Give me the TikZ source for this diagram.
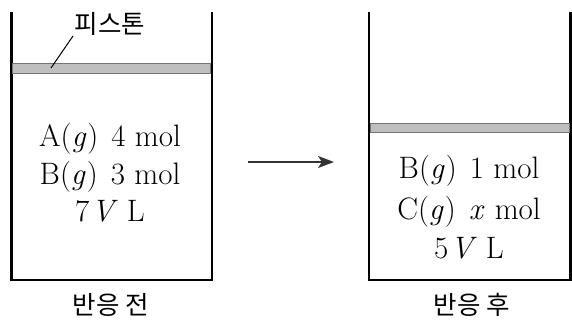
\documentclass[tikz,border=0pt]{standalone}
\usepackage{fontspec}
\newfontfamily\kr{Noto Sans CJK KR}
\usetikzlibrary{arrows.meta}
\newcommand{\itl}[1]{\textit{#1}\kern1pt\relax}
\begin{document}
\begin{tikzpicture}[x=1pt,y=-1pt,
  wall/.style={line width=2.6pt, line join=miter},
  piston/.style={fill=black!25, draw=black!55, line width=0.9pt},
  leader/.style={line width=1pt},
  chem/.style={font=\fontsize{31}{34}\selectfont, anchor=base, inner sep=0pt},
  krlabel/.style={font=\kr\fontsize{25.5}{28}\selectfont, inner sep=0pt},
  flow/.style={line width=1.6pt, draw=black!80, -{Stealth[length=16pt,width=12pt,inset=4pt]}}
]
\useasboundingbox (0,0) rectangle (572,322);
% left cylinder
\draw[wall] (11.5,12) -- (11.5,280) -- (212,280) -- (212,12);
\draw[piston] (12.8,63.5) rectangle (210.7,73.8);
\coordinate (lp) at (51,68);
\coordinate (lt) at (73,36);
\draw[leader] (lp) -- (lt);
\node[krlabel] (pst) at (110,24) {피스톤};
\node[chem] (a1) at (110,146.5) {A(\itl{g})\hspace{13pt}4 mol};
\node[chem] (b1) at (110,184.5) {B(\itl{g})\hspace{13pt}3 mol};
\node[chem] (v1) at (110,221.5) {7\kern2pt\relax\itl{V}\hspace{8pt}L};
\node[krlabel] (before) at (111,305) {반응 전};
% arrow
\coordinate (as) at (248,162);
\coordinate (ae) at (334,162);
\draw[flow] (as) -- (ae);
% right cylinder
\draw[wall] (369,12) -- (369,280) -- (570.7,280) -- (570.7,12);
\draw[piston] (370.3,123.5) rectangle (569.4,132.5);
\node[chem] (b2) at (469,178) {B(\itl{g})\hspace{13pt}1 mol};
\node[chem] (c2) at (469,219) {C(\itl{g})\hspace{13pt}\itl{x} mol};
\node[chem] (v2) at (469,258) {5\kern2pt\relax\itl{V}\hspace{8pt}L};
\node[krlabel] (after) at (472,305) {반응 후};
\end{tikzpicture}
\end{document}
